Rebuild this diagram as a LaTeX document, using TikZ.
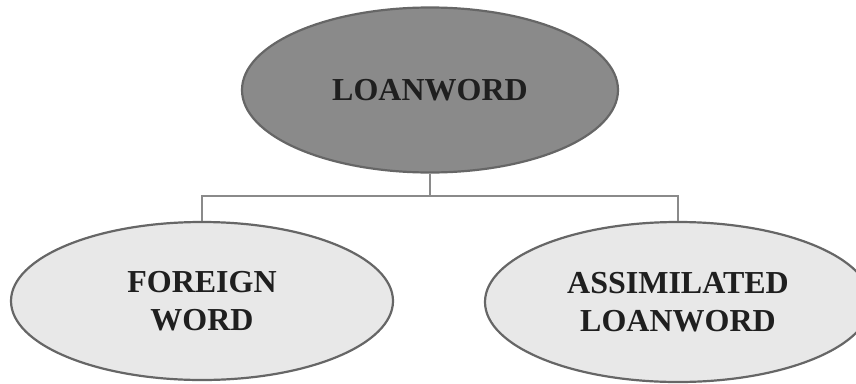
\documentclass[tikz,border=0pt]{standalone}
\usepackage{fontspec}
\setmainfont{Liberation Serif}
\usetikzlibrary{shapes.geometric,positioning}

\definecolor{darkfill}{HTML}{8A8A8A}
\definecolor{lightfill}{HTML}{E8E8E8}
\definecolor{rimgray}{HTML}{666666}
\definecolor{linkgray}{HTML}{8A8A8A}

\tikzset{
  headword/.style={ellipse,draw=rimgray,line width=2.2pt,fill=darkfill,inner sep=0pt,
    minimum width=376pt,minimum height=165pt,text=black!88,
    font=\bfseries\fontsize{32}{38}\selectfont},
  subword/.style={headword,fill=lightfill,align=center},
  link/.style={draw=linkgray,line width=1.2pt}
}

\begin{document}
\begin{tikzpicture}[x=1pt,y=-1pt]
        \useasboundingbox[fill=white] (0,0) rectangle (856,383);
        \node[headword] (loan) at (430,90) {LOANWORD};
        \node[subword,minimum width=382pt,minimum height=158pt] (foreign) at (202,301) {FOREIGN\\WORD};
        \node[subword,minimum width=386pt,minimum height=160pt] (assim) at (678,302) {ASSIMILATED\\LOANWORD};
        % tree lines
        \coordinate (split) at (430,196);
        \draw[link] (loan.south) -- (split);
        \draw[link] (foreign.north) |- (split) -| (assim.north);
    \end{tikzpicture}
\end{document}
